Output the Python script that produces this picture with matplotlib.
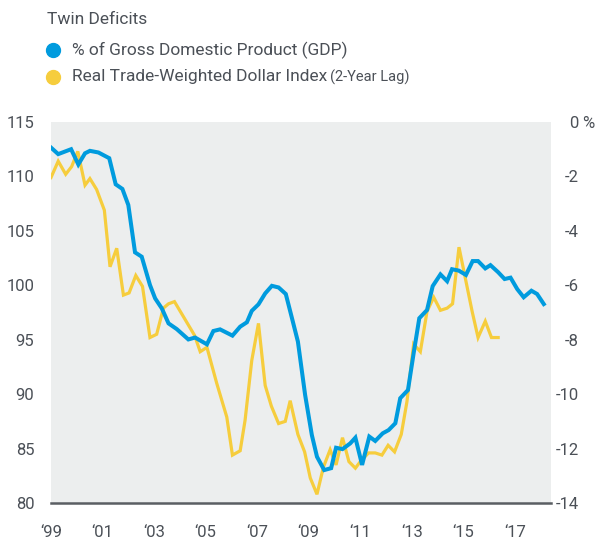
import matplotlib.pyplot as plt
from matplotlib.lines import Line2D

# current account as % of GDP (right axis)
gdp_years = [1999.00, 1999.28, 1999.78, 2000.06, 2000.32, 2000.51, 2000.84, 2001.26,
             2001.51, 2001.77, 2002.00, 2002.26, 2002.52, 2002.84, 2003.04, 2003.30,
             2003.56, 2003.88, 2004.33, 2004.59, 2005.05, 2005.30, 2005.56, 2006.04,
             2006.34, 2006.60, 2006.79, 2007.05, 2007.31, 2007.57, 2007.83, 2008.11,
             2008.35, 2008.58, 2008.86, 2009.12, 2009.32, 2009.60, 2009.87, 2010.06,
             2010.31, 2010.61, 2010.81, 2011.07, 2011.35, 2011.58, 2011.87, 2012.10,
             2012.36, 2012.55, 2012.85, 2013.07, 2013.29, 2013.59, 2013.81, 2014.11,
             2014.37, 2014.56, 2014.82, 2015.10, 2015.36, 2015.57, 2015.85, 2016.05,
             2016.35, 2016.60, 2016.83, 2017.09, 2017.34, 2017.64, 2017.86, 2018.12]
gdp_pct = [-0.94, -1.18, -1.00, -1.56, -1.15, -1.06, -1.12, -1.33,
           -2.29, -2.46, -3.05, -4.79, -4.95, -5.99, -6.48, -6.85,
           -7.40, -7.61, -7.99, -7.92, -8.17, -7.68, -7.62, -7.85,
           -7.52, -7.36, -6.94, -6.70, -6.30, -6.02, -6.08, -6.32,
           -7.21, -8.07, -10.03, -11.50, -12.30, -12.79, -12.72, -11.97,
           -12.02, -11.81, -11.60, -12.60, -11.56, -11.72, -11.44, -11.32,
           -11.07, -10.15, -9.85, -8.50, -7.21, -6.91, -6.03, -5.60,
           -5.85, -5.41, -5.46, -5.62, -5.11, -5.11, -5.38, -5.26,
           -5.52, -5.77, -5.72, -6.14, -6.44, -6.20, -6.32, -6.69]

# real trade-weighted dollar index, 2-year lag (left axis)
usd_years = [1999.00, 1999.28, 1999.57, 1999.80, 2000.04, 2000.32, 2000.51, 2000.77,
             2001.07, 2001.29, 2001.55, 2001.81, 2002.03, 2002.29, 2002.55, 2002.84,
             2003.10, 2003.36, 2003.56, 2003.79, 2004.57, 2004.79, 2005.05, 2005.43,
             2005.82, 2006.04, 2006.34, 2006.53, 2006.79, 2007.05, 2007.31, 2007.55,
             2007.83, 2008.09, 2008.28, 2008.58, 2008.84, 2009.06, 2009.32, 2009.57,
             2009.83, 2010.06, 2010.31, 2010.56, 2010.81, 2011.00, 2011.32, 2011.58,
             2011.84, 2012.08, 2012.33, 2012.59, 2012.81, 2013.07, 2013.33, 2013.59,
             2013.85, 2014.11, 2014.37, 2014.58, 2014.83, 2015.08, 2015.34, 2015.57,
             2015.85, 2016.09, 2016.35]
usd_index = [109.9, 111.4, 110.2, 110.9, 112.3, 109.2, 109.8, 108.8,
             106.9, 101.7, 103.4, 99.1, 99.3, 100.9, 99.9, 95.2,
             95.5, 97.9, 98.3, 98.5, 95.4, 93.9, 94.3, 91.0,
             87.9, 84.4, 84.8, 87.6, 93.1, 96.5, 90.8, 88.9,
             87.3, 87.5, 89.4, 86.3, 84.7, 82.3, 80.8, 83.3,
             84.9, 83.5, 86.0, 83.8, 83.2, 83.8, 84.6, 84.6,
             84.4, 85.3, 84.7, 86.3, 89.3, 94.6, 93.9, 97.6,
             98.9, 97.7, 97.9, 98.3, 103.5, 100.6, 97.6, 95.2,
             96.7, 95.2, 95.2]

left_ticks = [80, 85, 90, 95, 100, 105, 110, 115]
right_ticks = [-14, -12, -10, -8, -6, -4, -2, 0]
year_ticks = [1999, 2001, 2003, 2005, 2007, 2009, 2011, 2013, 2015, 2017]
year_labels = ['\u2018' + str(y)[2:] for y in year_ticks]

blue = '#009BDE'
yellow = '#F6CD3D'
txt = '#4B5057'
bg = '#ECEEEE'

plt.rcParams['font.family'] = ['Roboto', 'DejaVu Sans']

fig = plt.figure(figsize=(5.96, 5.42), dpi=100)
ax = fig.add_axes([51/596, 1 - 503/542, 500/596, 381/542])
ax.set_facecolor(bg)
ax.plot(usd_years, usd_index, color=yellow, lw=2.3, solid_joinstyle='miter', zorder=2)
ax.set_xlim(1999, 2018.4)
ax.set_ylim(80, 115)
ax.set_yticks(left_ticks)
ax.set_xticks(year_ticks)
ax.set_xticklabels(year_labels)
ax.tick_params(axis='both', length=0, labelsize=12, colors=txt)
ax.tick_params(axis='y', pad=12)
ax.tick_params(axis='x', pad=16)
for s in ['top', 'left', 'right']:
    ax.spines[s].set_visible(False)
ax.spines['bottom'].set_color('#5A5E63')
ax.spines['bottom'].set_linewidth(1.8)
ax.spines['bottom'].set_zorder(5)

ax2 = ax.twinx()
ax2.plot(gdp_years, gdp_pct, color=blue, lw=2.9, solid_joinstyle='miter', zorder=3)
ax2.set_ylim(-14, 0)
ax2.set_yticks(right_ticks)
ax2.set_yticklabels([str(t) for t in right_ticks])
ax2.tick_params(axis='y', length=0, labelsize=12, colors=txt, pad=20)
for lab in ax2.get_yticklabels():
    lab.set_horizontalalignment('right')
for s in ax2.spines.values():
    s.set_visible(False)
fig.text(582/596, 1 - 123/542, '%', fontsize=12, color=txt, ha='left', va='center')

# title and legend
fig.text(47/596, 1 - 20/542, 'Twin Deficits', fontsize=12.5, color=txt, va='center')
fig.add_artist(Line2D([53/596], [1 - 50/542], marker='o', ms=10, color=blue,
                      transform=fig.transFigure))
fig.add_artist(Line2D([53/596], [1 - 77/542], marker='o', ms=10, color=yellow,
                      transform=fig.transFigure))
fig.text(72/596, 1 - 50/542, '% of Gross Domestic Product (GDP)', fontsize=12.5,
         color=txt, va='center')
t = fig.text(72/596, 1 - 77/542, 'Real Trade-Weighted Dollar Index', fontsize=12.5,
             color=txt, va='center')
fig.canvas.draw()
bb = t.get_window_extent()
fig.text((bb.x1 + 3) / 596, 1 - 77/542, '(2-Year Lag)', fontsize=10.5,
         color=txt, va='center')

fig.savefig('out.png', dpi=100)
